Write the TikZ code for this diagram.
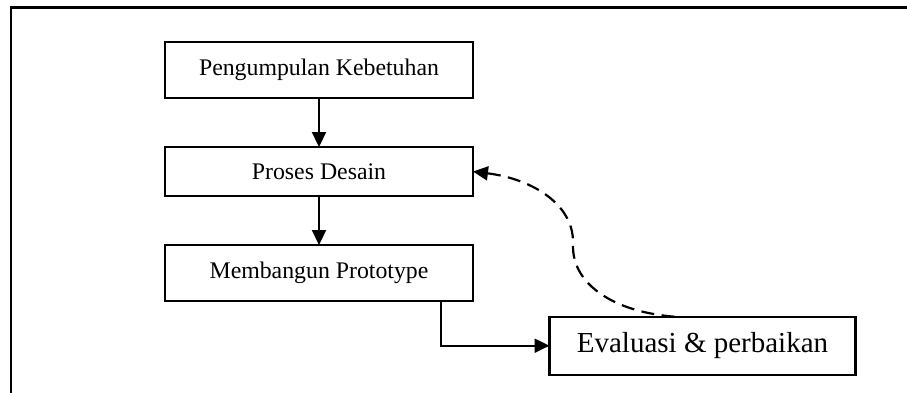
\documentclass[tikz,border=0pt]{standalone}
\usepackage{fontspec}
\setmainfont{Liberation Serif}
\usetikzlibrary{arrows.meta, positioning}
\tikzstyle{stage} = [
    rectangle,
    draw=black,
    line width=2.2pt,
    outer sep=0pt,
    minimum width=308pt,
    minimum height=56pt,
    text centered,
    font=\fontsize{23.8}{28}\selectfont
]
\tikzstyle{evalbox} = [
    stage,
    minimum width=306pt,
    minimum height=58pt,
    font=\fontsize{29}{34}\selectfont
]
\tikzstyle{flow} = [
    line width=2.2pt,
    -{Triangle[length=15pt, width=14pt]}
]
\tikzstyle{feedback} = [
    flow,
    dash pattern=on 13pt off 7.5pt
]

\begin{document}
\begin{tikzpicture}[x=1pt, y=-1pt, node distance=49pt, auto]
            \useasboundingbox (0,0) rectangle (907,392);
            \draw[line width=2.8pt] (11,400) -- (11,7.3) -- (915,7.3);

            \node[stage] (kebutuhan) at (319,70) {Pengumpulan Kebetuhan};
            \node[stage, minimum height=49pt] (desain) [below=of kebutuhan] {Proses Desain};
            \node[stage] (prototype) [below=of desain] {Membangun Prototype};
            \node[evalbox] (evaluasi) [below right=15.7pt and 76.5pt of prototype.south east] {Evaluasi \& perbaikan};

            \draw[flow] (kebutuhan) -- (desain);
            \draw[flow] (desain) -- (prototype);
            \draw[flow] ([xshift=-32pt]prototype.south east) |- (evaluasi.west);
            \draw[feedback] ([xshift=-28pt]evaluasi.north) .. controls (615,312) and (572,285) .. (573,245)
                .. controls (575,205) and (533,179) .. (desain.east);
        \end{tikzpicture}
\end{document}
